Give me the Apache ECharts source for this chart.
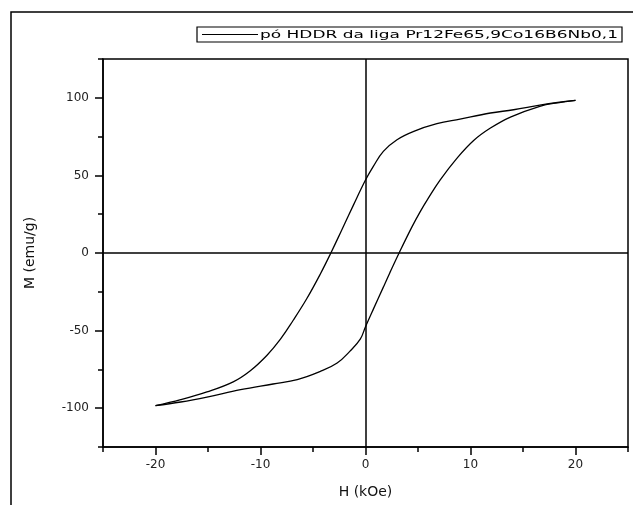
<!DOCTYPE html>
<html>
<head>
<meta charset="utf-8">
<script src="https://cdn.jsdelivr.net/npm/echarts@6/dist/echarts.min.js"></script>
<style>
html,body{margin:0;padding:0;background:#fff;}
#chart{width:633px;height:505px;}
</style>
</head>
<body>
<div id="chart"></div>
<script>
// Descending branch (from +20 kOe down to -20 kOe)
const descH = [20, 18.3, 16.6, 14.1, 11.9, 9.0, 6.8, 4.6, 3.0, 1.7, 0.76, 0, -1.14, -2.25, -3.3, -4.3, -5.6, -6.9, -8.1, -9.4, -11.0, -12.6, -15.1, -17.6, -20];
const descM = [98.3, 97.0, 95.3, 92.3, 90.2, 86.3, 83.3, 78.4, 73.0, 65.5, 56.0, 47.0, 31.0, 15.0, 0, -13.5, -29.5, -43.5, -55.5, -66.0, -76.0, -83.0, -89.5, -94.5, -98.4];
// Ascending branch (from -20 kOe up to +20 kOe)
const ascH = [-20, -17.6, -15.1, -11.9, -8.8, -6.5, -4.3, -2.7, -1.5, -0.5, 0, 0.76, 1.7, 2.3, 3.2, 4.4, 5.2, 6.0, 7.1, 8.7, 10.3, 11.9, 13.8, 16.6, 18.3, 20];
const ascM = [-98.4, -96.0, -92.8, -88.1, -84.4, -81.6, -76.3, -70.9, -63.4, -55.5, -47.5, -36.0, -22.0, -13.0, 0, 16.5, 26.5, 35.5, 47.0, 61.0, 72.5, 80.5, 87.6, 94.5, 96.8, 98.3];

const seriesName = 'pó HDDR da liga Pr12Fe65,9Co16B6Nb0,1';
const xName = 'H (kOe)';
const yName = 'M (emu/g)';
const xMajorTicks = [-20, -10, 0, 10, 20];
const xMinorTicks = [-25, -15, -5, 5, 15, 25];
const yMajorTicks = [-100, -50, 0, 50, 100];
const yMinorTicks = [-125, -75, -25, 25, 75, 125];

const descData = descH.map((h, i) => [h, descM[i]]);
const ascData = ascH.map((h, i) => [h, ascM[i]]);

const FONT = '"DejaVu Sans", sans-serif';
const chart = echarts.init(document.getElementById('chart'), null, {renderer: 'canvas'});

// legend text stretched to match the wide letter spacing of the reference
const legendFont = '10px "DejaVu Sans"';
const mctx = document.createElement('canvas').getContext('2d');
mctx.font = legendFont;
const legendW = mctx.measureText(seriesName).width;
const legendScale = 358 / legendW;

const lineSeries = (data, withMarks) => {
  const s = {
    name: seriesName,
    type: 'line',
    xAxisIndex: 0, yAxisIndex: 0,
    data: data,
    showSymbol: false, symbol: 'none',
    smooth: 0.4,
    lineStyle: {color: '#000', width: 1.3},
    silent: true
  };
  if (withMarks) {
    s.markLine = {
      silent: true, symbol: 'none', label: {show: false},
      lineStyle: {color: '#000', width: 1.5, type: 'solid'},
      data: [{xAxis: 0}, {yAxis: 0}]
    };
  }
  return s;
};

chart.setOption({
  animation: false,
  backgroundColor: '#fff',
  grid: {left: 103, right: 5, top: 59, bottom: 58, show: true, borderColor: '#000', borderWidth: 1.5, containLabel: false},
  xAxis: [
    {
      type: 'value', min: -25, max: 25, position: 'bottom',
      name: xName, nameLocation: 'middle', nameGap: 38,
      nameTextStyle: {fontFamily: FONT, fontSize: 14, color: '#111'},
      axisLine: {show: true, onZero: false, lineStyle: {color: '#000', width: 1.5}},
      axisTick: {show: true, customValues: xMajorTicks, length: 8, lineStyle: {color: '#000', width: 1.5}},
      axisLabel: {customValues: xMajorTicks, margin: 12, fontFamily: FONT, fontSize: 12, color: '#222'},
      splitLine: {show: false}
    },
    {
      type: 'value', min: -25, max: 25, position: 'bottom',
      axisLine: {show: false, onZero: false},
      axisTick: {show: true, customValues: xMinorTicks, length: 5, lineStyle: {color: '#000', width: 1.5}},
      axisLabel: {show: false},
      splitLine: {show: false}
    }
  ],
  yAxis: [
    {
      type: 'value', min: -125, max: 125, position: 'left',
      name: yName, nameLocation: 'middle', nameGap: 66,
      nameTextStyle: {fontFamily: FONT, fontSize: 14, color: '#111'},
      axisLine: {show: true, onZero: false, lineStyle: {color: '#000', width: 1.5}},
      axisTick: {show: true, customValues: yMajorTicks, length: 8, lineStyle: {color: '#000', width: 1.5}},
      axisLabel: {customValues: yMajorTicks, margin: 14, fontFamily: FONT, fontSize: 12, color: '#222'},
      splitLine: {show: false}
    },
    {
      type: 'value', min: -125, max: 125, position: 'left',
      axisLine: {show: false, onZero: false},
      axisTick: {show: true, customValues: yMinorTicks, length: 5, lineStyle: {color: '#000', width: 1.5}},
      axisLabel: {show: false},
      splitLine: {show: false}
    }
  ],
  series: [lineSeries(descData, true), lineSeries(ascData, false)],
  graphic: [
    {
      type: 'rect', silent: true,
      shape: {x: 11, y: 12, width: 700, height: 600},
      style: {fill: 'none', stroke: '#000', lineWidth: 1.5}
    },
    {
      type: 'group', silent: true,
      children: [
        {type: 'rect', shape: {x: 197, y: 27, width: 425, height: 15}, style: {fill: '#fff', stroke: '#000', lineWidth: 1.2}},
        {type: 'line', shape: {x1: 202, y1: 34.5, x2: 258, y2: 34.5}, style: {stroke: '#000', lineWidth: 1.2}},
        {type: 'text', x: 260, y: 35, scaleX: legendScale, style: {text: seriesName, font: legendFont, fill: '#000', verticalAlign: 'middle', align: 'left'}}
      ]
    }
  ]
});
</script>
</body>
</html>
